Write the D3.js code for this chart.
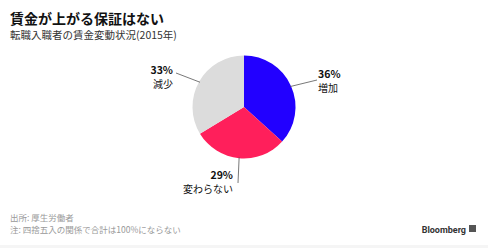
<!DOCTYPE html>
<html>
<head>
<meta charset="utf-8">
<script src="https://cdn.jsdelivr.net/npm/d3@7"></script>
<style>
    body { margin: 0; background: #fff; }
    svg { display: block; font-family: "Noto Sans CJK JP", "Noto Sans", sans-serif; }
</style>
</head>
<body>
<div id="chart"></div>
<script>
// data
const categories = ['増加', '変わらない', '減少'];
const values = [36, 29, 33];
const colors = ['#2200ff', '#ff1f5b', '#dcdcdc'];

const width = 488,
    height = 248;

const svg = d3.select('#chart').append('svg')
    .attr('width', width)
    .attr('height', height);

svg.append('rect')
    .attr('width', width)
    .attr('height', height)
    .attr('fill', '#fff');

// title
svg.append('text')
    .attr('x', 10)
    .attr('y', 24)
    .attr('font-size', 14)
    .attr('font-weight', 700)
    .attr('fill', '#111')
    .text('賃金が上がる保証はない');

svg.append('text')
    .attr('x', 10)
    .attr('y', 39)
    .attr('font-size', 10.5)
    .attr('fill', '#333')
    .text('転職入職者の賃金変動状況(2015年)');

// pie
const cx = 244,
    cy = 107,
    r = 51.5;

const pie = d3.pie().sort(null).value(d => d);
const arcs = pie(values);
const arc = d3.arc().innerRadius(0).outerRadius(r);

const g = svg.append('g')
    .attr('transform', 'translate(' + cx + ', ' + cy + ')');

g.selectAll('path')
    .data(arcs)
    .enter()
    .append('path')
    .attr('d', arc)
    .attr('fill', (d, i) => colors[i]);

// label placement relative to the pie centre
const labelPos = [
    { lx: 73, ly: -27, tx: 74, ty: -29, anchor: 'start' },
    { lx: -6, ly: 76, tx: -11, ty: 72, anchor: 'end' },
    { lx: -68, ly: -34, tx: -71, ty: -33, anchor: 'end' }
];

arcs.forEach((a, i) => {
    const p = labelPos[i],
        mid = (a.startAngle + a.endAngle) / 2,
        ex = Math.sin(mid) * (r - 1),
        ey = -Math.cos(mid) * (r - 1);

    g.append('line')
        .attr('x1', ex)
        .attr('y1', ey)
        .attr('x2', p.lx)
        .attr('y2', p.ly)
        .attr('stroke', '#555')
        .attr('stroke-width', 0.8);

    g.append('text')
        .attr('x', p.tx)
        .attr('y', p.ty)
        .attr('text-anchor', p.anchor)
        .attr('font-size', 10.5)
        .attr('font-weight', 700)
        .attr('fill', '#111')
        .text(values[i] + '%');

    g.append('text')
        .attr('x', p.tx)
        .attr('y', p.ty + 14)
        .attr('text-anchor', p.anchor)
        .attr('font-size', 10)
        .attr('fill', '#111')
        .text(categories[i]);
});

// footer
svg.append('text')
    .attr('x', 10)
    .attr('y', 221)
    .attr('font-size', 8.5)
    .attr('fill', '#999')
    .text('出所: 厚生労働者');

svg.append('text')
    .attr('x', 10)
    .attr('y', 233)
    .attr('font-size', 8.5)
    .attr('fill', '#999')
    .text('注: 四捨五入の関係で合計は100%にならない');

svg.append('text')
    .attr('x', 466)
    .attr('y', 232.5)
    .attr('text-anchor', 'end')
    .attr('font-size', 9)
    .attr('font-weight', 700)
    .attr('font-family', 'Roboto, sans-serif')
    .attr('fill', '#333')
    .text('Bloomberg');

svg.append('rect')
    .attr('x', 469)
    .attr('y', 225)
    .attr('width', 7)
    .attr('height', 7)
    .attr('fill', '#555');

svg.append('rect')
    .attr('x', 0)
    .attr('y', 245)
    .attr('width', width)
    .attr('height', 3)
    .attr('fill', '#f5f5f5');
</script>
</body>
</html>
